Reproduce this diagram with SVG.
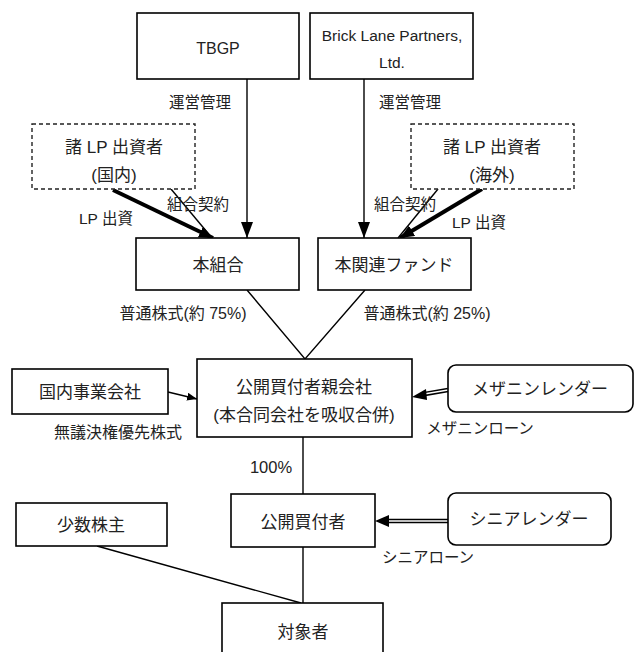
<svg xmlns="http://www.w3.org/2000/svg" width="635" height="652" viewBox="0 0 635 652">
<style>
text{font-family:"Liberation Sans","Noto Sans CJK JP",sans-serif;fill:#222;text-anchor:middle;dominant-baseline:central}
.b{fill:#fff;stroke:#000;stroke-width:1.6}
.d{fill:#fff;stroke:#222;stroke-width:1.4;stroke-dasharray:4 3}
.t{font-size:17px}
.l{font-size:15.5px}
.l2{font-size:16px}
.ln{fill:none;stroke:#000;stroke-width:1.4}
.th{fill:none;stroke:#000;stroke-width:4}
.dbo{fill:none;stroke:#000;stroke-width:4.5}
.dbi{fill:none;stroke:#fff;stroke-width:1.6}
</style>
<defs>
<marker id="ahs" viewBox="0 0 10 10" refX="10" refY="5" markerWidth="16" markerHeight="12" markerUnits="userSpaceOnUse" orient="auto" preserveAspectRatio="none"><path d="M0,0L10,5L0,10z" fill="#000"/></marker>
<marker id="aht" viewBox="0 0 10 10" refX="10" refY="5" markerWidth="14" markerHeight="12" markerUnits="userSpaceOnUse" orient="auto" preserveAspectRatio="none"><path d="M0,0L10,5L0,10z" fill="#000"/></marker>
<marker id="ahm" viewBox="0 0 10 10" refX="10" refY="5" markerWidth="10" markerHeight="8" markerUnits="userSpaceOnUse" orient="auto" preserveAspectRatio="none"><path d="M0,0L10,5L0,10z" fill="#000"/></marker>
</defs>

<g id="connectors">
<line class="ln" x1="247" y1="79" x2="247" y2="238" marker-end="url(#ahs)"/>
<line class="ln" x1="364" y1="79" x2="364" y2="238" marker-end="url(#ahs)"/>
<line class="ln" x1="171" y1="189" x2="212" y2="238"/>
<line class="th" x1="113" y1="190" x2="213" y2="238" marker-end="url(#aht)"/>
<line class="ln" x1="438" y1="189" x2="398" y2="238"/>
<line class="th" x1="482" y1="189" x2="400" y2="238" marker-end="url(#aht)"/>
<polyline class="ln" points="247,290 305,359 365,290"/>
<line class="ln" x1="168" y1="392" x2="197" y2="399" marker-end="url(#ahm)"/>
<line class="ln" x1="303" y1="437" x2="303" y2="494"/>
<line class="ln" x1="303" y1="547" x2="303" y2="603"/>
<line class="ln" x1="97" y1="546" x2="301" y2="603"/>
<line class="dbo" x1="448" y1="390" x2="425" y2="394"/>
<line class="dbi" x1="448" y1="390" x2="424" y2="394"/>
<polygon points="412,397 426,389 427,400" fill="#000"/>
<line class="dbo" x1="448" y1="521" x2="387" y2="521"/>
<line class="dbi" x1="448" y1="521" x2="386" y2="521"/>
<polygon points="375,521 389,515 389,527" fill="#000"/>
</g>

<g id="tbgp"><rect class="b" x="137" y="13" width="162" height="66"/><text x="218" y="48" style="font-size:16px">TBGP</text></g>
<g id="brick"><rect class="b" x="310" y="13" width="163" height="66"/><text x="392" y="35" style="font-size:15.5px">Brick Lane Partners,</text><text x="392" y="62" style="font-size:15.5px">Ltd.</text></g>
<g id="lp-domestic"><rect class="d" x="32" y="124" width="163" height="65"/><text class="t" x="114" y="147">諸 LP 出資者</text><text class="t" x="114" y="175">(国内)</text></g>
<g id="lp-overseas"><rect class="d" x="411" y="124" width="163" height="65"/><text class="t" x="492" y="147">諸 LP 出資者</text><text class="t" x="492" y="175">(海外)</text></g>
<g id="kumiai"><rect class="b" x="136" y="238" width="163" height="52"/><text class="t" x="218" y="265">本組合</text></g>
<g id="fund"><rect class="b" x="318" y="238" width="153" height="52"/><text class="t" x="394" y="265">本関連ファンド</text></g>
<g id="parent"><rect class="b" x="197" y="359" width="215" height="78"/><text class="t" x="304" y="387">公開買付者親会社</text><text class="t" x="304" y="415">(本合同会社を吸収合併)</text></g>
<g id="domestic-co"><rect class="b" x="12" y="369" width="156" height="45"/><text class="t" x="90" y="392">国内事業会社</text></g>
<g id="mezz"><rect class="b" x="448" y="365" width="185" height="47" rx="8"/><text class="t" x="540" y="389">メザニンレンダー</text></g>
<g id="offeror"><rect class="b" x="231" y="494" width="144" height="53"/><text class="t" x="303" y="522">公開買付者</text></g>
<g id="senior"><rect class="b" x="448" y="493" width="163" height="52" rx="8"/><text class="t" x="529" y="519">シニアレンダー</text></g>
<g id="minority"><rect class="b" x="16" y="503" width="151" height="43"/><text class="t" x="91" y="525">少数株主</text></g>
<g id="target"><rect class="b" x="222" y="603" width="161" height="60"/><text class="t" x="303" y="632">対象者</text></g>

<g id="labels">
<text class="l" x="200" y="102">運営管理</text>
<text class="l" x="410" y="102">運営管理</text>
<text class="l" x="198" y="204">組合契約</text>
<text class="l" x="405" y="204">組合契約</text>
<text class="l" x="106" y="218">LP 出資</text>
<text class="l" x="479" y="222">LP 出資</text>
<text class="l2" x="183" y="313">普通株式(約 75%)</text>
<text class="l2" x="427" y="313">普通株式(約 25%)</text>
<text class="l2" x="118" y="432">無議決権優先株式</text>
<text class="l" x="480" y="428">メザニンローン</text>
<text class="l" x="271" y="467" style="font-size:16.5px">100%</text>
<text class="l" x="428" y="557">シニアローン</text>
</g>
</svg>
